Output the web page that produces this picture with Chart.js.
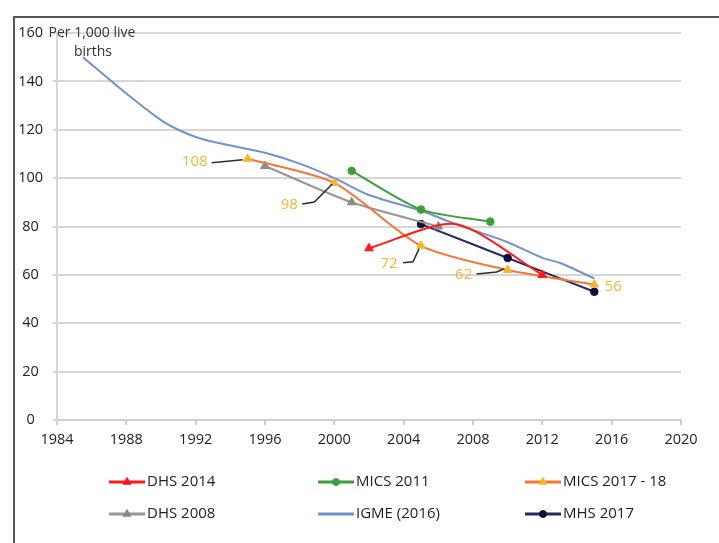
<!DOCTYPE html>
<html>
<head>
<meta charset="utf-8">
<script src="https://cdn.jsdelivr.net/npm/chart.js@4"></script>
<style>
  html, body { margin: 0; padding: 0; background: #fff; }
  #wrap { position: relative; width: 719px; height: 543px; overflow: hidden; }
  #frame { position: absolute; left: 13px; top: 16px; right: -5px; bottom: -5px;
           border-left: 2px solid #555; border-top: 2px solid #555; }
  canvas { position: absolute; left: 0; top: 0; }
</style>
</head>
<body>
<div id="wrap"><div id="frame"></div><canvas id="chart" width="719" height="543"></canvas></div>
<script>
// under-five mortality, per 1,000 live births
const dhs2014Years = [2002, 2007, 2012];
const dhs2014Values = [71, 81, 60];
const mics2011Years = [2001, 2005, 2009];
const mics2011Values = [103, 87, 82];
const mics2017Years = [1995, 2000, 2005, 2010, 2015];
const mics2017Values = [108, 98, 72, 62, 56];
const dhs2008Years = [1996, 2001, 2006];
const dhs2008Values = [105, 90, 80];
const igmeYears = [1985.5, 1988, 1990, 1991, 1992, 1993, 1994, 1996, 1998, 2000, 2002, 2005, 2007, 2010, 2012, 2013, 2015];
const igmeValues = [150, 135, 124, 120, 117, 115, 113.5, 110.5, 106, 100, 93, 86.5, 81, 73.5, 67, 65, 58.5];
const mhs2017Years = [2005, 2010, 2015];
const mhs2017Values = [81, 67, 53];

const yAxisNote = ["Per 1,000 live", "births"];
const FONT = "'Open Sans', sans-serif";

function pts(xs, ys) {
    return xs.map((x, i) => ({ x: x, y: ys[i] }));
}

// where the callout numbers sit relative to their point, and the leader line
const calloutOffsets = [[-53, 3], [-45, 22], [-32, 18], [-44, 5], [19, 2]];
const calloutLeaders = [
    [[-36, 4], [-5, 1]],
    [[-32, 21], [-20, 19], [-2, 1]],
    [[-18, 17], [-8, 16], [-2, 3]],
    [[-31, 4], [-11, 2], [-4, -1]],
    null
];

const calloutPlugin = {
    id: "callouts",
    afterDatasetsDraw(chart) {
        const ctx = chart.ctx;
        const meta = chart.getDatasetMeta(2);
        ctx.save();
        meta.data.forEach((p, i) => {
            const lead = calloutLeaders[i];
            if (lead) {
                ctx.strokeStyle = "#2b2b2b";
                ctx.lineWidth = 1.5;
                ctx.beginPath();
                lead.forEach((d, j) => {
                    if (j === 0) ctx.moveTo(p.x + d[0], p.y + d[1]);
                    else ctx.lineTo(p.x + d[0], p.y + d[1]);
                });
                ctx.stroke();
            }
            const off = calloutOffsets[i];
            ctx.fillStyle = "#f6b53a";
            ctx.font = "15px " + FONT;
            ctx.textAlign = "center";
            ctx.textBaseline = "middle";
            ctx.fillText(String(mics2017Values[i]), p.x + off[0], p.y + off[1]);
        });

        // axis note
        const yScale = chart.scales.y;
        const top = yScale.getPixelForValue(160);
        ctx.fillStyle = "#333";
        ctx.font = "14px " + FONT;
        ctx.fillText(yAxisNote[0], chart.chartArea.left + 35, top);
        ctx.fillText(yAxisNote[1], chart.chartArea.left + 36, top + 19);
        ctx.restore();
    }
};

const legendPlugin = {
    id: "lineLegend",
    afterDraw(chart) {
        const ctx = chart.ctx;
        const cols = [109, 318, 525];
        const rows = [482, 514];
        ctx.save();
        chart.data.datasets.forEach((ds, i) => {
            const x = cols[i % 3];
            const y = rows[Math.floor(i / 3)];
            ctx.strokeStyle = ds.borderColor;
            ctx.lineWidth = 3;
            ctx.beginPath();
            ctx.moveTo(x, y);
            ctx.lineTo(x + 36, y);
            ctx.stroke();
            if (ds.pointStyle) {
                ctx.fillStyle = ds.pointBackgroundColor;
                ctx.strokeStyle = ds.pointBackgroundColor;
                ctx.lineWidth = 1;
                Chart.helpers.drawPoint(ctx, { pointStyle: ds.pointStyle, radius: ds.pointStyle === "triangle" ? 4.5 : 3.5, borderWidth: 1 }, x + 18, y);
            }
            ctx.fillStyle = "#222";
            ctx.font = "15px " + FONT;
            ctx.textAlign = "left";
            ctx.textBaseline = "middle";
            ctx.fillText(ds.label, x + 38, y);
        });
        ctx.restore();
    }
};

function series(label, xs, ys, line, marker, style, extra) {
    return Object.assign({
        label: label,
        data: pts(xs, ys),
        borderColor: line,
        borderWidth: 2,
        pointStyle: style,
        pointBackgroundColor: marker,
        pointBorderColor: marker,
        pointBorderWidth: 1,
        pointRadius: style ? (style === "triangle" ? 5 : 3.8) : 0,
        tension: 0.25,
        fill: false
    }, extra || {});
}

const ctx = document.getElementById("chart").getContext("2d");
new Chart(ctx, {
    type: "line",
    data: {
        datasets: [
            series("DHS 2014", dhs2014Years, dhs2014Values, "#ff1a1a", "#ff1a1a", "triangle", { pointRadius: [5, 0, 5] }),
            series("MICS 2011", mics2011Years, mics2011Values, "#3c9f3c", "#3c9f3c", "circle"),
            series("MICS 2017 - 18", mics2017Years, mics2017Values, "#f47536", "#f6b62e", "triangle"),
            series("DHS 2008", dhs2008Years, dhs2008Values, "#999593", "#8f8a86", "triangle"),
            series("IGME (2016)", igmeYears, igmeValues, "#6f93c9", "#6f93c9", false, { order: 5 }),
            series("MHS 2017", mhs2017Years, mhs2017Values, "#262a5e", "#0c0c3a", "circle")
        ]
    },
    options: {
        responsive: false,
        animation: false,
        layout: { padding: { left: 0, top: 33, right: 38, bottom: 0 } },
        plugins: {
            legend: { display: false },
            tooltip: { enabled: false }
        },
        scales: {
            x: {
                type: "linear",
                min: 1984,
                max: 2020,
                afterFit(scale) { scale.height = 123; },
                border: { color: "#cfcfcf", width: 2 },
                grid: { drawOnChartArea: false, color: "#cfcfcf", lineWidth: 2, tickLength: 5 },
                ticks: {
                    stepSize: 4,
                    padding: 6,
                    color: "#222",
                    font: { family: FONT, size: 14.5 },
                    callback: (v) => String(v)
                }
            },
            y: {
                min: 0,
                max: 160,
                afterFit(scale) { scale.width = 57; },
                border: { color: "#d6d6d6", width: 2 },
                grid: { color: "#d6d6d6", lineWidth: 2, tickLength: 4 },
                ticks: {
                    stepSize: 20,
                    padding: 10,
                    crossAlign: "center",
                    color: "#222",
                    font: { family: FONT, size: 14.5 }
                }
            }
        }
    },
    plugins: [calloutPlugin, legendPlugin]
});
</script>
</body>
</html>
